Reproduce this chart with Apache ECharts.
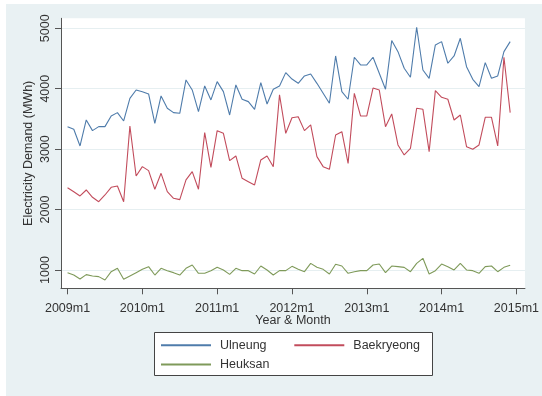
<!DOCTYPE html>
<html>
<head>
<meta charset="utf-8">
<script src="https://cdn.jsdelivr.net/npm/echarts@6/dist/echarts.min.js"></script>
<style>
html,body{margin:0;padding:0;background:#ffffff;}
#chart{width:542px;height:396px;}
</style>
</head>
<body>
<div id="chart"></div>
<script>
// Month index 0 = 2009m1 ... 71 = 2014m12
var tickMonths = [0, 12, 24, 36, 48, 60, 72];
var tickLabels = ['2009m1', '2010m1', '2011m1', '2012m1', '2013m1', '2014m1', '2015m1'];
var yTicks = [1000, 2000, 3000, 4000, 5000];

var ulneung = [
  3372, 3328, 3052, 3483, 3306, 3372, 3372, 3549, 3604, 3466, 3841, 3979,
  3951, 3913, 3427, 3880, 3676, 3604, 3593, 4145, 3979, 3620, 4045, 3814,
  4117, 3951, 3565, 4062, 3825, 3786, 3659, 4100, 3747, 3990, 4045, 4266,
  4160, 4089, 4211, 4244, 4089, 3924, 3759, 4542, 3951, 3825, 4520, 4393,
  4393, 4520, 4255, 3990, 4796, 4613, 4338, 4189, 5017, 4310, 4172, 4724,
  4779, 4421, 4542, 4834, 4365, 4156, 4034, 4431, 4172, 4211, 4613, 4779
];
var baekryeong = [
  2362, 2296, 2225, 2324, 2203, 2130, 2241, 2368, 2390, 2130, 3383, 2556,
  2710, 2644, 2336, 2600, 2296, 2186, 2165, 2490, 2627, 2336, 3273, 2699,
  3306, 3262, 2809, 2887, 2517, 2462, 2407, 2821, 2887, 2710, 3900, 3262,
  3520, 3537, 3306, 3400, 2876, 2710, 2666, 3234, 3289, 2765, 3924, 3549,
  3549, 4010, 3979, 3372, 3582, 3069, 2903, 3013, 3676, 3659, 2958, 3968,
  3858, 3825, 3482, 3565, 3041, 2997, 3069, 3527, 3527, 3052, 4520, 3604
];
var heuksan = [
  956, 917, 851, 923, 901, 890, 835, 972, 1028, 846, 901, 956,
  1011, 1055, 917, 1028, 989, 956, 917, 1028, 1083, 945, 945, 989,
  1044, 1000, 928, 1028, 989, 989, 934, 1066, 1000, 917, 989, 989,
  1060, 1011, 972, 1110, 1044, 1011, 934, 1094, 1066, 945, 972, 989,
  989, 1083, 1099, 956, 1066, 1055, 1044, 972, 1110, 1193, 934, 989,
  1099, 1055, 1000, 1110, 1000, 989, 945, 1055, 1066, 972, 1044, 1077
];
var seriesNames = ['Ulneung', 'Baekryeong', 'Heuksan'];

function pairs(arr) { return arr.map(function (v, i) { return [i, v]; }); }

var FONT = 'Liberation Sans, Arial, sans-serif';
var TXT = '#333333';
var colors = ['#4f7cab', '#c24c5c', '#7f9a5a'];

function legendCfg(name, left, top) {
  return {
    data: [name], left: left, top: top, padding: 0,
    itemWidth: 50, itemHeight: 12, z: 10,
    itemStyle: { opacity: 0 },
    textStyle: { fontFamily: FONT, fontSize: 12.5, color: TXT, padding: [0, 0, 0, 4] }
  };
}

var chart = echarts.init(document.getElementById('chart'));
chart.setOption({
  animation: false,
  backgroundColor: '#ffffff',
  graphic: [
    { type: 'rect', z: -10, shape: { x: 6, y: 4, width: 536, height: 392 }, style: { fill: '#e9f1f3' } },
    { type: 'rect', z: 5, shape: { x: 154.5, y: 332.5, width: 278, height: 43 }, style: { fill: '#ffffff', stroke: '#444444', lineWidth: 1 } }
  ],
  grid: {
    left: 61, right: 12.7, top: 18.3, bottom: 107.7,
    show: true, backgroundColor: '#ffffff', borderWidth: 0
  },
  xAxis: {
    type: 'value', min: -1.05, max: 73.37,
    name: 'Year & Month', nameLocation: 'middle', nameGap: 26, nameMoveOverlap: false,
    nameTextStyle: { fontFamily: FONT, fontSize: 12.5, color: TXT },
    axisLine: { show: true, onZero: false, lineStyle: { color: '#555555', width: 1 } },
    axisTick: { show: true, length: 6, customValues: tickMonths, lineStyle: { color: '#555555' } },
    axisLabel: {
      customValues: tickMonths, margin: 14, fontFamily: FONT, fontSize: 12.5, color: TXT,
      formatter: function (v) { var k = tickMonths.indexOf(Math.round(v)); return k >= 0 ? tickLabels[k] : ''; }
    },
    splitLine: { show: false }
  },
  yAxis: {
    type: 'value', min: 697, max: 5165,
    name: 'Electricity Demand (MWh)', nameLocation: 'middle', nameGap: 26, nameMoveOverlap: false,
    nameTextStyle: { fontFamily: FONT, fontSize: 12.5, color: TXT },
    axisLine: { show: true, onZero: false, lineStyle: { color: '#555555', width: 1 } },
    axisTick: { show: true, length: 6, customValues: yTicks, lineStyle: { color: '#555555' } },
    axisLabel: {
      customValues: yTicks, rotate: 90, margin: 9, fontFamily: FONT, fontSize: 12.5, color: TXT,
      formatter: function (v) { return String(Math.round(v)); }
    },
    splitLine: { show: true, lineStyle: { color: '#e6eff1', width: 1 } }
  },
  legend: [
    legendCfg(seriesNames[0], 160, 338.7),
    legendCfg(seriesNames[1], 293.3, 338.7),
    legendCfg(seriesNames[2], 160, 358)
  ],
  series: [
    { name: seriesNames[0], type: 'line', data: pairs(ulneung), symbol: 'none', color: colors[0], lineStyle: { width: 1.1 } },
    { name: seriesNames[1], type: 'line', data: pairs(baekryeong), symbol: 'none', color: colors[1], lineStyle: { width: 1.1 } },
    { name: seriesNames[2], type: 'line', data: pairs(heuksan), symbol: 'none', color: colors[2], lineStyle: { width: 1.1 } }
  ]
});
</script>
</body>
</html>
